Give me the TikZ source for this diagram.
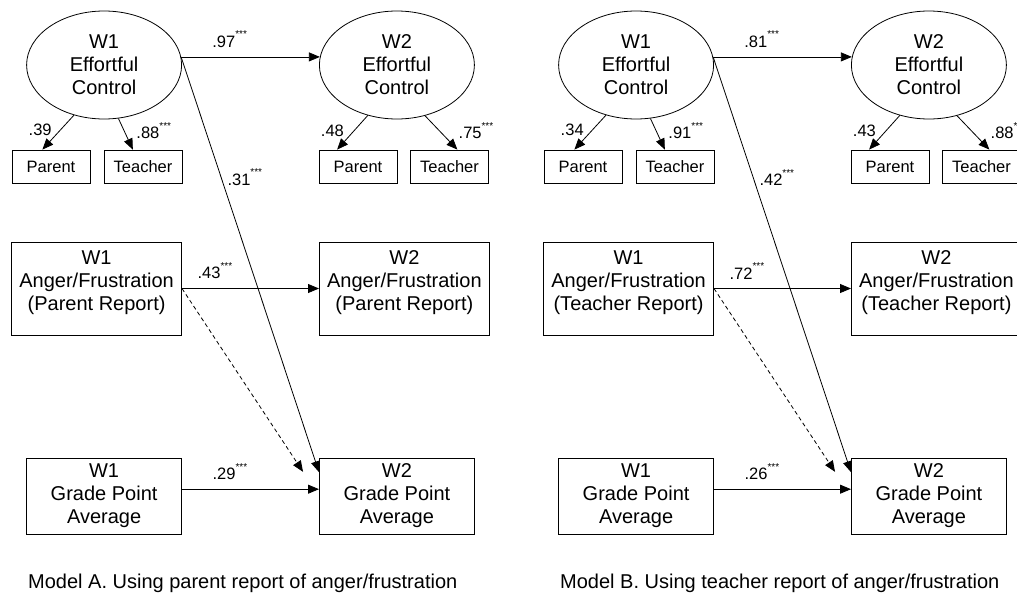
\documentclass[tikz,border=0pt]{standalone}
\usepackage{fontspec}
\setmainfont{Liberation Sans}
\usetikzlibrary{shapes.geometric,arrows.meta}
\newcommand{\sig}{\raisebox{9.5pt}{\fontsize{10}{10}\selectfont ***}}

\begin{document}
\begin{tikzpicture}[x=1pt,y=-1pt,
    latent/.style={draw,ellipse,line width=0.8pt,minimum width=155pt,minimum height=108pt,inner sep=0pt,align=center,font=\fontsize{20}{23}\selectfont},
    measure/.style={draw,rectangle,line width=0.8pt,minimum width=78pt,minimum height=33pt,inner sep=0pt,font=\fontsize{16.5}{18}\selectfont},
    anger/.style={draw,rectangle,line width=0.8pt,minimum width=170pt,minimum height=93pt,inner sep=0pt,align=center,font=\fontsize{20}{23}\selectfont},
    gpa/.style={draw,rectangle,line width=0.8pt,minimum width=155pt,minimum height=76pt,inner sep=0pt,align=center,font=\fontsize{20}{23}\selectfont},
    coef/.style={->,line width=0.8pt},
    est/.style={inner sep=0pt,font=\fontsize{16.5}{18}\selectfont},
    caption/.style={anchor=west,inner sep=0pt,font=\fontsize{20}{23}\selectfont},
    >={Triangle[length=11pt,width=9pt]}]

    \useasboundingbox (0,0) rectangle (1017,600);

    % Model A
    \node[latent,anchor=east] (ecA1) at (182,65) {W1\\Effortful\\Control};
    \node[latent,anchor=west] (ecA2) at (319,65) {W2\\Effortful\\Control};

    \node[measure] (parA1) at (51,166.5) {Parent};
    \node[measure] (teaA1) at (143,166.5) {Teacher};
    \node[measure] (parA2) at (358,166.5) {Parent};
    \node[measure] (teaA2) at (449.5,166.5) {Teacher};

    \node[anger,anchor=east] (angA1) at (182,288.5) {W1\\Anger/Frustration\\(Parent Report)\\[-7pt]\mbox{}};
    \node[anger,anchor=west] (angA2) at (319,288.5) {W2\\Anger/Frustration\\(Parent Report)\\[-7pt]\mbox{}};

    \node[gpa,anchor=east] (gpaA1) at (182,496) {W1\\Grade Point\\Average};
    \node[gpa,anchor=west] (gpaA2) at (319,496) {W2\\Grade Point\\Average};

    % Paths
    \draw[coef] (ecA1.6) -- node[est,pos=0.35,above=9pt] {.97\sig} (ecA2.174);
    \draw[coef] (ecA1.239.5) -- node[est,pos=0.44,left=8pt] {.39} (parA1.117);
    \draw[coef] (ecA1.285) -- node[est,pos=0.39,right=12pt] {.88\sig} (teaA1.121);
    \draw[coef] (ecA2.240.4) -- node[est,pos=0.44,left=10pt] {.48} (parA2.141.8);
    \draw[coef] (ecA2.299.6) -- node[est,pos=0.44,right=19pt] {.75\sig} (teaA2.65.6);
    \draw[coef] (ecA1.6) -- node[est,pos=0.29,right=6pt] {.31\sig} (gpaA2.163);
    \draw[coef] (angA1.east) -- node[est,pos=0.24,above=9pt] {.43\sig} (angA2.west);
    \draw[coef,dash pattern=on 4pt off 3pt,shorten >=29pt] (angA1.east) -- (gpaA2.west);
    \draw[coef] (gpaA1.5) -- node[est,pos=0.35,above=9pt] {.29\sig} (gpaA2.175);

    \node[caption] (capA) at (28,583) {Model A. Using parent report of anger/frustration};

    % Model B
    \begin{scope}[xshift=532pt]
    \node[latent,anchor=east] (ecB1) at (182,65) {W1\\Effortful\\Control};
    \node[latent,anchor=west] (ecB2) at (319,65) {W2\\Effortful\\Control};

    \node[measure] (parB1) at (51,166.5) {Parent};
    \node[measure] (teaB1) at (143,166.5) {Teacher};
    \node[measure] (parB2) at (358,166.5) {Parent};
    \node[measure] (teaB2) at (449.5,166.5) {Teacher};

    \node[anger,anchor=east] (angB1) at (182,288.5) {W1\\Anger/Frustration\\(Teacher Report)\\[-7pt]\mbox{}};
    \node[anger,anchor=west] (angB2) at (319,288.5) {W2\\Anger/Frustration\\(Teacher Report)\\[-7pt]\mbox{}};

    \node[gpa,anchor=east] (gpaB1) at (182,496) {W1\\Grade Point\\Average};
    \node[gpa,anchor=west] (gpaB2) at (319,496) {W2\\Grade Point\\Average};

    % Paths
    \draw[coef] (ecB1.6) -- node[est,pos=0.35,above=9pt] {.81\sig} (ecB2.174);
    \draw[coef] (ecB1.239.5) -- node[est,pos=0.44,left=8pt] {.34} (parB1.117);
    \draw[coef] (ecB1.285) -- node[est,pos=0.39,right=12pt] {.91\sig} (teaB1.121);
    \draw[coef] (ecB2.240.4) -- node[est,pos=0.44,left=10pt] {.43} (parB2.141.8);
    \draw[coef] (ecB2.299.6) -- node[est,pos=0.44,right=19pt] {.88\sig} (teaB2.65.6);
    \draw[coef] (ecB1.6) -- node[est,pos=0.29,right=6pt] {.42\sig} (gpaB2.163);
    \draw[coef] (angB1.east) -- node[est,pos=0.24,above=9pt] {.72\sig} (angB2.west);
    \draw[coef,dash pattern=on 4pt off 3pt,shorten >=29pt] (angB1.east) -- (gpaB2.west);
    \draw[coef] (gpaB1.5) -- node[est,pos=0.35,above=9pt] {.26\sig} (gpaB2.175);

    \node[caption] (capB) at (28,583) {Model B. Using teacher report of anger/frustration};
    \end{scope}

\end{tikzpicture}
\end{document}
